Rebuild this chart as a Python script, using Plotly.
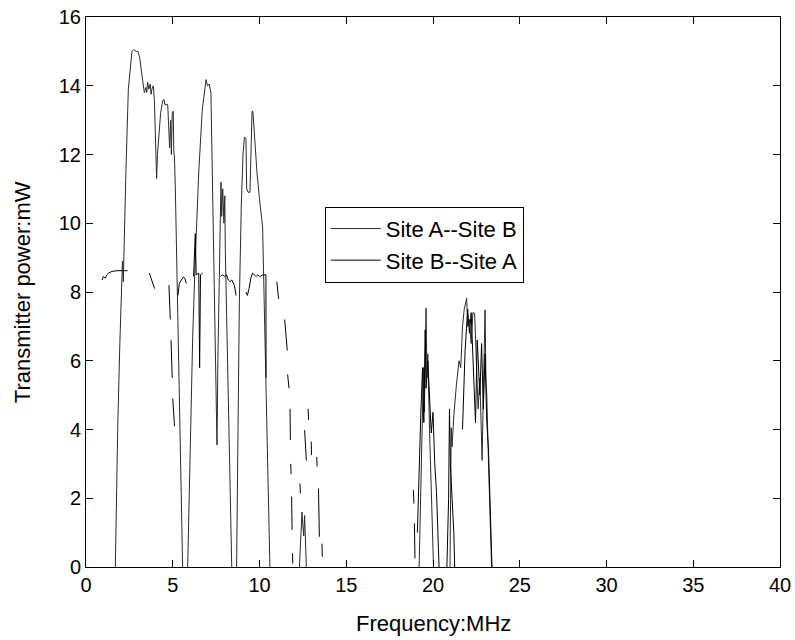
import plotly.graph_objects as go

# Site A -> Site B transmitter power (None separates the bands where power falls to zero)
freq_ab = [1.69, 1.75, 1.83, 1.95, 2.07, 2.10, 2.15, 2.20, 2.30, 2.44, 2.55, 2.65, 2.75, 2.90,
           3.00, 3.10, 3.20, 3.30, 3.36, 3.45, 3.50, 3.55, 3.62, 3.70, 3.75, 3.80, 3.88, 3.94,
           4.00, 4.07, 4.12, 4.20, 4.30, 4.42, 4.50, 4.55, 4.71, 4.75, 4.82, 4.88, 4.92, 4.97,
           5.03, 5.06, 5.10, 5.15, 5.30, 5.45, 5.57, None,
           5.86, 5.95, 6.05, 6.15, 6.30, 6.50, 6.70,
           6.85, 6.92, 7.00, 7.10, 7.20, 7.30, 7.40, 7.50, 7.55, 7.60, 7.70, 7.78, 7.82, 7.88,
           7.95, 8.00, 8.03, 8.15, 8.30, 8.40, None,
           8.68, 8.75, 8.84, 8.95, 9.05, 9.13, 9.22, 9.26,
           9.35, 9.45, 9.52, 9.57, 9.62, 9.70, 9.85, 10.00, 10.10, 10.18, 10.30, 10.45, 10.60, None,
           12.30, 12.40, 12.45, 12.50, 12.55, 12.60, 12.65, 12.70, None,
           19.20, 19.30, 19.40, 19.45, 19.50, 19.55, 19.60, 19.65, 19.70, 19.80, 19.90, 20.03, None,
           20.98, 21.00, 21.05, 21.10, 21.20, 21.35, 21.50, 21.60, 21.70, 21.80, 21.94, 22.00,
           22.10, 22.20, 22.30, 22.40, 22.50, 22.60, 22.70, 22.83, 22.90, 22.95, 23.00, 23.05,
           23.10, 23.20, 23.30, 23.38]
power_ab = [0.0, 2.4, 4.1, 6.5, 8.0, 8.9, 8.3, 9.6, 11.5, 13.9, 14.6, 15.0, 15.05, 15.0,
            15.0, 14.8, 14.4, 13.9, 13.8, 13.95, 13.8, 14.1, 13.9, 14.05, 13.75, 13.9, 14.0, 13.6,
            12.5, 11.3, 12.0, 12.5, 13.2, 13.57, 13.6, 13.45, 13.45, 13.0, 12.2, 13.0, 12.0, 13.2,
            13.26, 12.1, 11.9, 11.0, 7.0, 3.0, 0.0, None,
            0.0, 2.4, 5.0, 6.7, 9.0, 11.5, 13.3,
            14.0, 14.18, 14.0, 14.05, 13.8, 11.0, 8.0, 5.0, 3.55, 6.0, 9.5, 11.2, 10.2, 11.0,
            10.0, 10.8, 9.2, 6.0, 2.5, 0.0, None,
            0.0, 4.0, 7.74, 10.5, 12.0, 12.5, 12.47, 11.0,
            10.9, 10.9, 12.0, 13.25, 13.25, 12.6, 11.5, 10.7, 10.2, 9.89, 7.0, 3.0, 0.0, None,
            0.0, 1.2, 1.6, 1.2, 0.9, 1.5, 0.5, 0.0, None,
            0.0, 2.0, 4.0, 5.8, 4.5, 6.5, 7.53, 5.5, 6.2, 4.0, 2.5, 0.0, None,
            0.0, 2.5, 4.05, 3.5, 4.4, 5.3, 6.0, 5.8, 7.0, 7.5, 7.82, 7.0,
            7.2, 6.5, 7.4, 7.38, 6.2, 4.6, 5.5, 3.1, 5.0, 6.5, 7.48, 5.5,
            5.0, 3.0, 1.2, 0.0]

# Site B -> Site A transmitter power (broken trace, None marks missing samples)
freq_ba = [0.92, 1.00, 1.10, 1.20, 1.30, 1.50, 1.80, 2.10, 2.40, None,
           3.65, 3.75, 3.85, 3.95, None,
           4.78, 4.86, None, 4.90, 4.97, None, 5.00, 5.05, 5.10, None,
           5.30, 5.38, 5.50, 5.60, 5.70, 5.78, None,
           6.20, 6.30, 6.35, 6.50, 6.55, 6.60, 6.72, None,
           7.75, 7.85, 8.00, 8.10, 8.20, 8.30, 8.40, 8.55, 8.65, None,
           9.22, 9.30, 9.40, 9.50, 9.60, 9.70, 9.80, 9.90, 10.00, 10.20, 10.37, 10.38, None,
           11.00, 11.10, None, 11.45, 11.60, None, 11.62, 11.70, None, 11.76, 11.78, None,
           11.80, 11.82, None, 11.85, 11.88, None, 11.90, 11.92, None,
           12.33, 12.36, None, 12.60, 12.70, None, 12.80, 12.83, None, 12.98, 13.00, None,
           13.30, 13.32, None, 13.40, 13.42, 13.45, None, 13.60, 13.62, None,
           18.87, 18.90, None, 18.93, 18.96, None,
           19.10, 19.20, 19.30, 19.40, 19.47, 19.55, 19.60, 19.70, 19.80, 19.90, 20.00, 20.10,
           20.20, 20.30, 20.35, None,
           20.80, 20.90, 20.95, 21.00, 21.10, 21.20, 21.25, None,
           21.70, 21.85, 22.00, 22.10, 22.20, 22.30, 22.45, 22.55, 22.70, 22.80, 22.90, 23.00,
           23.10, 23.20, 23.30, 23.40]
power_ba = [8.35, 8.45, 8.40, 8.50, 8.55, 8.60, 8.62, 8.62, 8.62, None,
            8.55, 8.40, 8.20, 8.10, None,
            8.20, 7.20, None, 6.60, 5.50, None, 4.90, 4.60, 4.10, None,
            7.90, 8.25, 8.35, 8.43, 8.40, 8.25, None,
            8.45, 9.70, 8.50, 8.55, 5.80, 8.50, 8.55, None,
            8.45, 8.50, 8.45, 8.50, 8.35, 8.30, 8.35, 8.20, 7.90, None,
            8.00, 7.90, 8.10, 8.40, 8.55, 8.50, 8.45, 8.50, 8.45, 8.50, 8.50, 5.50, None,
            8.30, 7.80, None, 7.20, 6.30, None, 5.60, 5.20, None, 4.60, 3.70, None,
            3.00, 2.70, None, 2.05, 1.08, None, 0.40, 0.10, None,
            2.43, 2.14, None, 3.98, 3.10, None, 4.60, 4.28, None, 3.65, 3.26, None,
            3.20, 2.92, None, 2.28, 1.60, 0.88, None, 0.68, 0.30, None,
            2.24, 1.85, None, 1.27, 0.25, None,
            1.00, 3.00, 4.50, 5.80, 4.20, 6.90, 5.20, 6.00, 4.80, 3.90, 4.50, 3.00,
            2.20, 1.00, 0.00, None,
            0.00, 2.00, 4.60, 3.00, 2.00, 1.00, 0.00, None,
            4.00, 6.30, 7.50, 6.80, 7.40, 6.00, 4.20, 6.60, 5.00, 6.50, 4.60, 6.20,
            4.20, 3.40, 1.50, 0.00]

x_ticks = [0, 5, 10, 15, 20, 25, 30, 35, 40]
y_ticks = [0, 2, 4, 6, 8, 10, 12, 14, 16]

font_family = "Liberation Sans, Arial, sans-serif"

fig = go.Figure()
fig.add_trace(go.Scatter(x=freq_ab, y=power_ab, mode="lines", name="Site A--Site B",
                         line=dict(color="#2b2b2b", width=1), connectgaps=False))
fig.add_trace(go.Scatter(x=freq_ba, y=power_ba, mode="lines", name="Site B--Site A",
                         line=dict(color="#000000", width=1), connectgaps=False))

axis_common = dict(showgrid=False, zeroline=False, showline=True, linecolor="black",
                   linewidth=1, mirror="ticks", ticks="inside", ticklen=7,
                   tickcolor="black", tickwidth=1, automargin=False,
                   tickfont=dict(family=font_family, size=20, color="black"))

fig.update_xaxes(range=[0, 40], tickvals=x_ticks, ticktext=[str(v) for v in x_ticks],
                 **axis_common)
fig.update_yaxes(range=[0, 16], tickvals=y_ticks, ticktext=[str(v) for v in y_ticks],
                 **axis_common)

# Axis titles placed as paper-anchored text
title_font = dict(family=font_family, size=22, color="black")
fig.add_annotation(text="Frequency:MHz", xref="paper", yref="paper", x=0.5, y=-0.102,
                   xanchor="center", yanchor="middle", showarrow=False, font=title_font)
fig.add_annotation(text="Transmitter power:mW", xref="paper", yref="paper", x=-0.092, y=0.5,
                   xanchor="center", yanchor="middle", textangle=-90, showarrow=False,
                   font=title_font)

fig.update_layout(
    width=795, height=640,
    margin=dict(l=86, r=15, t=17, b=73),
    paper_bgcolor="white", plot_bgcolor="white",
    showlegend=True,
    legend=dict(x=0.344, y=0.655, xanchor="left", yanchor="top",
                bgcolor="white", bordercolor="black", borderwidth=1,
                font=dict(family=font_family, size=22, color="black"),
                tracegroupgap=0, itemwidth=50),
)

fig.write_html("out.html")
